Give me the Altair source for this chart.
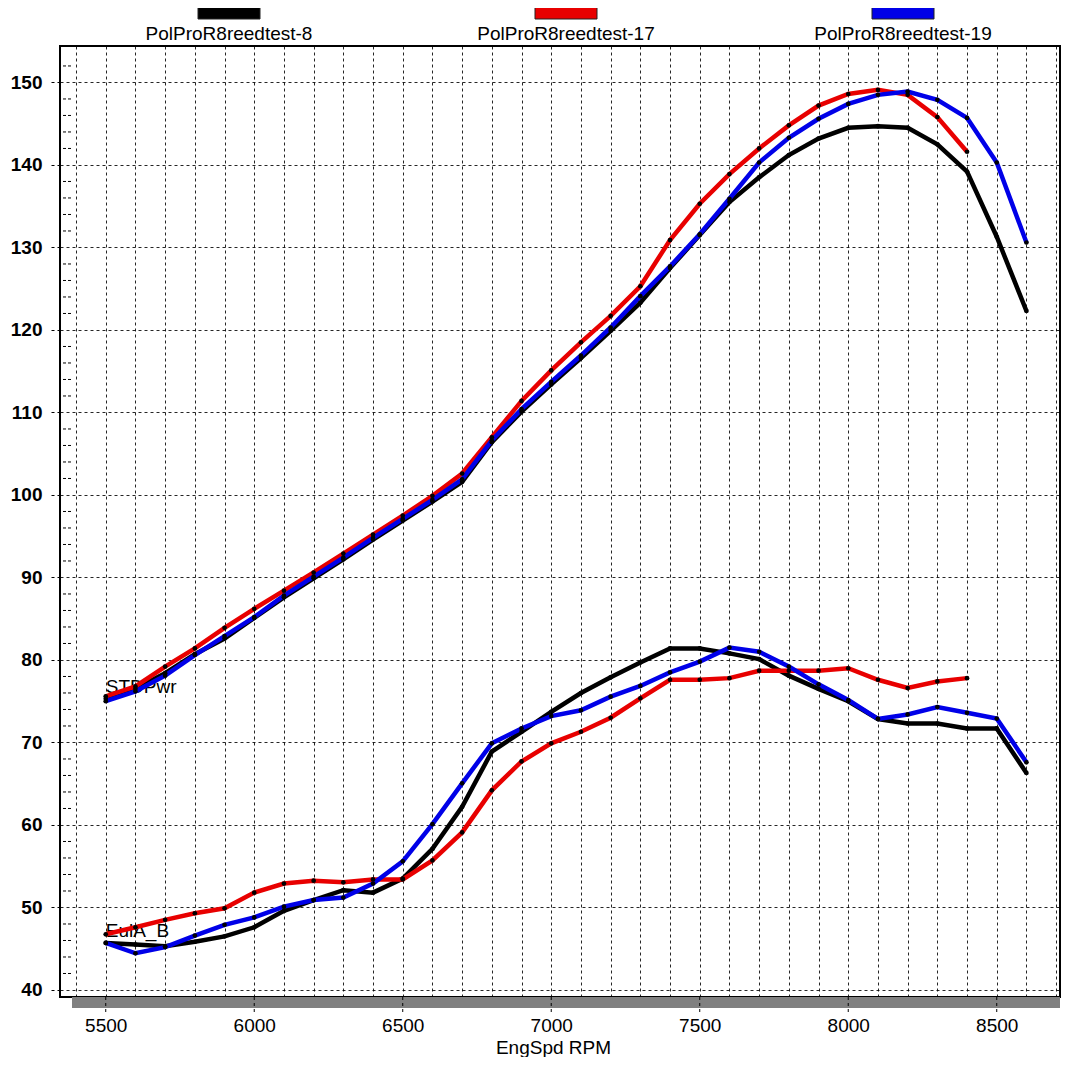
import altair as alt
import pandas as pd

FONT = "Liberation Sans"

rpm = [5500, 5600, 5700, 5800, 5900, 6000, 6100, 6200, 6300, 6400, 6500,
       6600, 6700, 6800, 6900, 7000, 7100, 7200, 7300, 7400, 7500, 7600,
       7700, 7800, 7900, 8000, 8100, 8200, 8300, 8400, 8500, 8600]

series = ["PolProR8reedtest-8", "PolProR8reedtest-17", "PolProR8reedtest-19"]
colors = ["#000000", "#E80000", "#0000E8"]

pwr_8 = [75.3, 76.5, 78.4, 80.7, 82.6, 85.1, 87.6, 89.9, 92.2, 94.6, 96.9,
         99.2, 101.6, 106.4, 110.1, 113.4, 116.6, 119.9, 123.3, 127.5, 131.5,
         135.5, 138.5, 141.2, 143.2, 144.5, 144.7, 144.5, 142.5, 139.2, 131.3, 122.3]
pwr_17 = [75.6, 76.8, 79.2, 81.4, 83.9, 86.2, 88.4, 90.6, 92.9, 95.2, 97.5,
          99.9, 102.6, 107.0, 111.4, 115.1, 118.5, 121.7, 125.3, 130.9, 135.3,
          138.9, 142.0, 144.8, 147.2, 148.6, 149.1, 148.5, 145.8, 141.6]
pwr_19 = [75.0, 76.2, 78.1, 80.6, 82.9, 85.2, 87.8, 90.1, 92.4, 94.8, 97.1,
          99.4, 101.9, 106.6, 110.4, 113.7, 116.9, 120.3, 124.1, 127.7, 131.6,
          135.9, 140.3, 143.3, 145.6, 147.4, 148.5, 148.9, 147.9, 145.7, 140.3, 130.6]

eul_8 = [45.7, 45.5, 45.3, 45.85, 46.5, 47.6, 49.6, 50.9, 52.1, 51.8, 53.5,
         57.1, 62.2, 68.9, 71.3, 73.7, 76.0, 77.9, 79.7, 81.4, 81.4,
         80.8, 80.1, 78.1, 76.5, 75.0, 72.85, 72.3, 72.3, 71.7, 71.7, 66.3]
eul_17 = [46.75, 47.6, 48.5, 49.3, 49.9, 51.8, 52.9, 53.25, 53.05, 53.4, 53.4,
          55.7, 59.1, 64.2, 67.7, 69.9, 71.3, 73.0, 75.35, 77.6, 77.6,
          77.8, 78.7, 78.7, 78.7, 79.0, 77.6, 76.6, 77.4, 77.8]
eul_19 = [45.7, 44.45, 45.2, 46.6, 47.9, 48.8, 50.1, 50.9, 51.2, 52.9, 55.6,
          60.1, 65.05, 69.9, 71.7, 73.2, 73.9, 75.55, 76.85, 78.5, 79.8,
          81.5, 81.0, 79.2, 77.05, 75.15, 72.85, 73.4, 74.3, 73.6, 72.9, 67.6]

curve_labels = ["STDPwr", "EulA_B"]

y_ticks = [40, 50, 60, 70, 80, 90, 100, 110, 120, 130, 140, 150]
y_minor = [v for v in range(42, 154, 2) if v % 10 != 0]
x_labels = [5500, 6000, 6500, 7000, 7500, 8000, 8500]
x_grid = [5400, 5500, 5600, 5700, 5800, 5900, 6000, 6100, 6200, 6300, 6400,
          6500, 6600, 6700, 6800, 6900, 7000, 7100, 7200, 7300, 7400, 7500,
          7600, 7700, 7800, 7900, 8000, 8100, 8200, 8300, 8400, 8500, 8600, 8700]

# ---- tables ----
def frame(name, metric, vals):
    return pd.DataFrame({"rpm": rpm[:len(vals)], "value": vals,
                         "series": name, "metric": metric})

power = [pwr_8, pwr_17, pwr_19]
torque = [eul_8, eul_17, eul_19]
per_series = []
for name, p, t in zip(series, power, torque):
    per_series.append(pd.concat([frame(name, "STDPwr", p), frame(name, "EulA_B", t)],
                                ignore_index=True))
all_df = pd.concat(per_series, ignore_index=True)

label_df = pd.DataFrame({"label": curve_labels, "rpm": [rpm[0], rpm[0]],
                         "value": [pwr_8[0], eul_8[0]]})
minor_df = pd.DataFrame({"value": y_minor})
xlab_df = pd.DataFrame({"rpm": x_labels})
legend_df = pd.DataFrame({"series": series})

X = alt.X("rpm:Q",
          scale=alt.Scale(domain=[5346, 8713], nice=False, zero=False),
          axis=alt.Axis(values=x_grid, grid=True, gridDash=[3, 3], gridColor="#000000",
                        gridOpacity=0.85, gridWidth=1, ticks=False, tickSize=0,
                        domain=False, format="d",
                        labelExpr="datum.value % 500 === 0 ? datum.label : ''",
                        labelOverlap=False, labelFlush=False,
                        labelFont=FONT, labelFontSize=19, labelColor="#000000",
                        labelPadding=19,
                        title="EngSpd RPM", titleFont=FONT, titleFontSize=19,
                        titleFontWeight="normal", titleColor="#000000",
                        titleBaseline="alphabetic", titleX=493, titleY=56))
Y = alt.Y("value:Q",
          scale=alt.Scale(domain=[39.15, 154.42], nice=False, zero=False),
          axis=alt.Axis(values=y_ticks, grid=True, gridDash=[3, 3], gridColor="#000000",
                        gridOpacity=0.85, gridWidth=1, ticks=True, tickSize=12,
                        tickDash=[3, 3], tickColor="#000000", domain=False,
                        labelFont=FONT, labelFontSize=19, labelFontWeight="bold",
                        labelColor="#000000", labelPadding=6, title=None))

gray_bar = alt.Chart(pd.DataFrame({"k": [0]})).mark_rect(color="#808080").encode(
    x=alt.value(12), x2=alt.value(1000), y=alt.value(951), y2=alt.value(962))

bottom_ticks = alt.Chart(xlab_df).mark_rule(color="#000000", strokeDash=[3, 3]).encode(
    x=X, y=alt.value(951), y2=alt.value(967))

minor_ticks = alt.Chart(minor_df).mark_rule(color="#000000", strokeDash=[3, 2]).encode(
    y=Y, x=alt.value(3), x2=alt.value(12))

labels = alt.Chart(label_df).mark_text(align="left", baseline="alphabetic", dy=-6,
                                       font=FONT, fontSize=19, color="#000000").encode(
    x=X, y=Y, text="label:N")

line_layers = []
for name, col, sub in zip(series, colors, per_series):
    line_layers.append(
        alt.Chart(sub).mark_line(strokeWidth=4.5, color=col).encode(
            x=X, y=Y, detail="metric:N"))

points = alt.Chart(all_df).mark_circle(size=22, color="#000000", opacity=1).encode(
    x=X, y=Y)

inner = alt.layer(gray_bar, bottom_ticks, minor_ticks, labels, *line_layers, points)

LX = alt.X("series:N", scale=alt.Scale(type="point", domain=series, range=[169, 843],
                                       padding=0), axis=None)
legend_rects = alt.Chart(legend_df).mark_tick(orient="horizontal", size=62, thickness=13,
                                              stroke="#222222", strokeWidth=1,
                                              opacity=1).encode(
    x=LX, y=alt.value(-33.5),
    color=alt.Color("series:N", scale=alt.Scale(domain=series, range=colors), legend=None))
legend_text = alt.Chart(legend_df).mark_text(baseline="middle", font=FONT, fontSize=19,
                                             color="#000000").encode(
    x=LX, y=alt.value(-12.5), text="series:N")

chart = alt.layer(inner, legend_rects, legend_text).resolve_scale(
    x="independent", color="independent"
).properties(
    width=1000, height=951,
    padding={"left": 52, "top": 38, "right": 5, "bottom": 60},
    autosize=alt.AutoSizeParams(type="none"),
    background="#FFFFFF",
).configure_view(stroke="#000000", strokeWidth=2)

chart.save("out.html", embed_options={"renderer": "svg", "actions": False})
